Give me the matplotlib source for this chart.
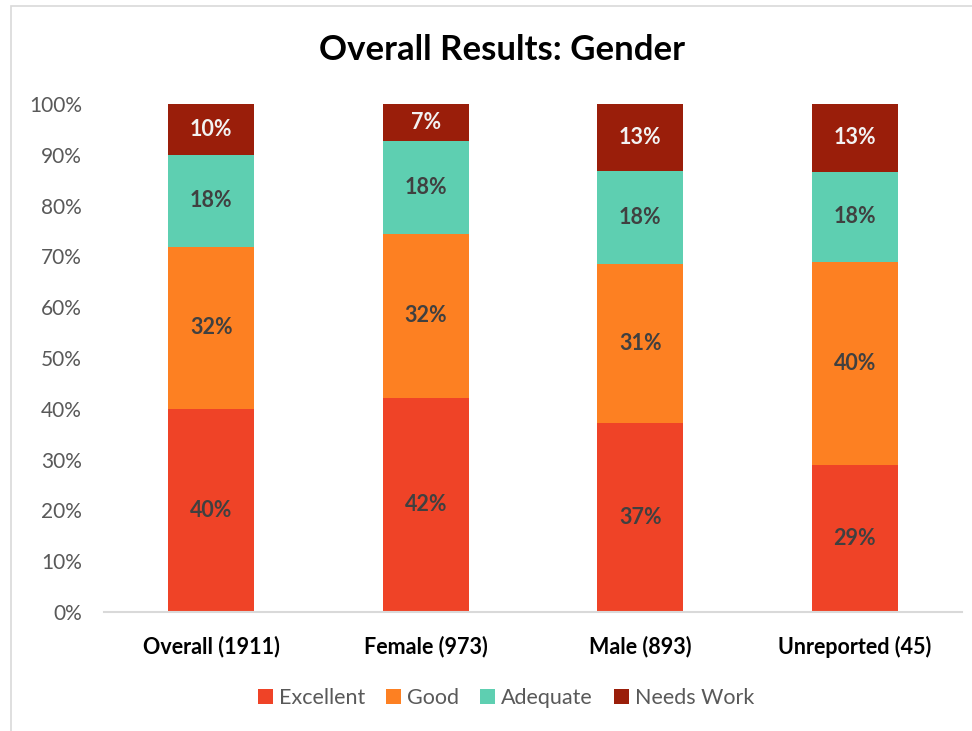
import matplotlib
matplotlib.use("Agg")
import matplotlib.pyplot as plt
from matplotlib.patches import Rectangle
import numpy as np

plt.rcParams['font.family'] = ['Lato', 'DejaVu Sans']

categories = ["Overall (1911)", "Female (973)", "Male (893)", "Unreported (45)"]
series_names = ["Excellent", "Good", "Adequate", "Needs Work"]
excellent = [40.0, 42.2, 37.2, 28.9]
good = [31.9, 32.2, 31.3, 40.0]
adequate = [18.1, 18.4, 18.3, 17.8]
needs_work = [10.0, 7.2, 13.2, 13.3]

colors = ["#EF4327", "#FD8022", "#5ECFB1", "#9A1E0A"]
label_colors = ["#404040", "#404040", "#404040", "#F2F2F2"]

fig = plt.figure(figsize=(9.72, 7.31), dpi=100)
ax = fig.add_axes([104/972, 1-612/731, (962-104)/972, (612-104)/731])

# chart border
fig.patches.append(Rectangle((11/972, -0.05), 1.1, 1-6/731+0.05, transform=fig.transFigure,
                             fill=False, edgecolor="#D9D9D9", linewidth=1.2, zorder=0))

x = np.arange(len(categories))
bottom = np.zeros(len(categories))
data = [excellent, good, adequate, needs_work]
for vals, name, col, lc in zip(data, series_names, colors, label_colors):
    vals = np.array(vals)
    ax.bar(x, vals, 0.40, bottom=bottom, color=col, label=name, zorder=2)
    for xi, b, v in zip(x, bottom, vals):
        ax.text(xi, b + v/2, f"{v:.0f}%", ha="center", va="center",
                fontsize=15.5, fontweight="bold", color=lc, zorder=3)
    bottom += vals

ax.set_xlim(-0.5, 3.5)
ax.set_ylim(0, 100)
ax.set_yticks(np.arange(0, 101, 10))
ax.set_yticklabels([f"{v}%" for v in range(0, 101, 10)], fontsize=15, color="#595959")
ax.set_xticks(x)
ax.set_xticklabels(categories, fontsize=15.5, fontweight="bold", color="black")
ax.tick_params(axis="both", length=0)
ax.tick_params(axis="y", pad=16)
ax.tick_params(axis="x", pad=17)
for s in ["top", "right", "left"]:
    ax.spines[s].set_visible(False)
ax.spines["bottom"].set_color("#D9D9D9")
ax.spines["bottom"].set_linewidth(1.5)

fig.text(502/972, 1-50/731, "Overall Results: Gender", ha="center", va="center",
         fontsize=25, fontweight="bold", color="black")

leg = fig.legend(loc="center", bbox_to_anchor=(506/972, 1-698/731), ncol=4, frameon=False,
                 fontsize=15.5, handlelength=0.7, handleheight=0.7, handletextpad=0.3,
                 columnspacing=0.95)
for t in leg.get_texts():
    t.set_color("#595959")

fig.savefig("out.png", dpi=100)
